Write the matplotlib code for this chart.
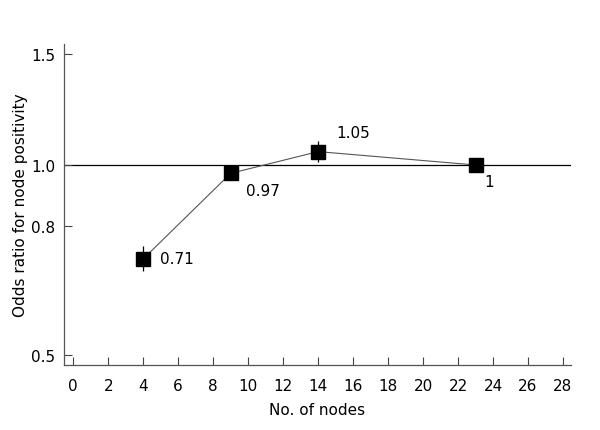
import numpy as np
import matplotlib
matplotlib.use('Agg')
import matplotlib.pyplot as plt
from matplotlib.ticker import FixedLocator, NullLocator

# data
nodes = [4, 9, 14, 23]
odds = [0.71, 0.97, 1.05, 1.0]
ci_low = [0.68, 0.945, 1.01, 0.99]
ci_high = [0.745, 0.99, 1.09, 1.01]
labels = ['0.71', '0.97', '1.05', '1']
xticks = list(range(0, 29, 2))
yticks = [0.5, 0.8, 1.0, 1.5]

fig = plt.figure(figsize=(6, 4.31), dpi=100)
ax = fig.add_axes([0.1067, 0.1508, 0.845, 0.7448])

ax.set_yscale('log')
ax.set_xlim(-0.53, 28.46)
ax.set_ylim(0.482, 1.555)

ax.axhline(1.0, color='black', lw=0.9, zorder=1)

err = [np.array(odds) - np.array(ci_low), np.array(ci_high) - np.array(odds)]
ax.errorbar(nodes, odds, yerr=err, fmt='none', ecolor='black', elinewidth=0.9, capsize=0, zorder=2)
ax.plot(nodes, odds, color='#555555', lw=0.8, zorder=3)
ax.plot(nodes, odds, 's', color='black', markersize=10, zorder=4)

# value labels
offs = [(12, 0), (11, -12), (13, 14), (6.5, -12)]
for x, y, t, (dx, dy) in zip(nodes, odds, labels, offs):
    ax.annotate(t, (x, y), xytext=(dx, dy), textcoords='offset points',
                ha='left', va='center', fontsize=11)

ax.yaxis.set_major_locator(FixedLocator(yticks))
ax.yaxis.set_minor_locator(NullLocator())
ax.set_yticklabels(['%.1f' % v for v in yticks])
ax.set_xticks(xticks)

ax.tick_params(axis='both', direction='in', length=6, width=0.8, labelsize=11, color='#444444')
ax.tick_params(axis='y', pad=6.5)
ax.tick_params(axis='x', pad=9)

for s in ['top', 'right']:
    ax.spines[s].set_visible(False)
for s in ['left', 'bottom']:
    ax.spines[s].set_color('#555555')
    ax.spines[s].set_linewidth(0.9)

ax.set_xlabel('No. of nodes', fontsize=11, labelpad=7)
ax.set_ylabel('Odds ratio for node positivity', fontsize=11, labelpad=2)

fig.savefig('out.png', dpi=100)
